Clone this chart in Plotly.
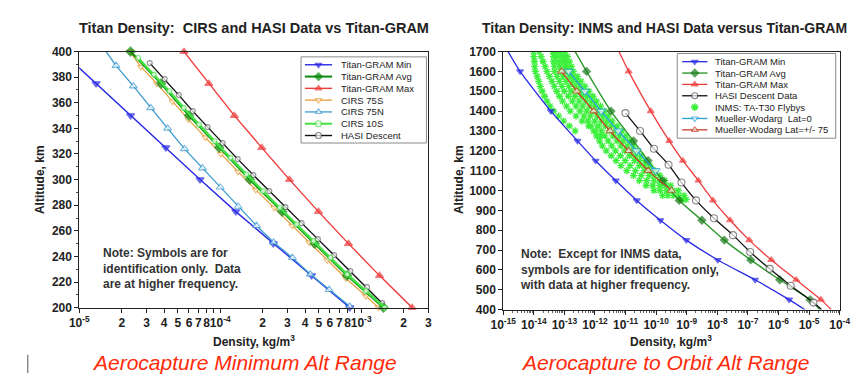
import numpy as np
import plotly.graph_objects as go

W, H = 865, 374

# ---------------- Left chart: CIRS and HASI vs Titan-GRAM ----------------
alt_gram_l = [400, 375, 350, 325, 300, 275, 250, 225, 200]
gram_min_l = [7.48e-6, 1.315e-5, 2.31e-5, 4.11e-5, 7.19e-5, 1.29e-4, 2.38e-4, 4.45e-4, 8.30e-4]
gram_avg_l = [2.31e-5, 3.80e-5, 6.00e-5, 9.82e-5, 1.62e-4, 2.75e-4, 4.68e-4, 7.94e-4, 1.44e-3]
gram_max_l = [5.53e-5, 8.30e-5, 1.26e-4, 1.97e-4, 3.10e-4, 4.98e-4, 8.13e-4, 1.35e-3, 2.30e-3]

alt_cirs75s = [400, 388, 375, 361, 347, 333, 320, 306, 292, 278, 264, 251, 237, 223, 209, 200]
cirs_75s = [2.28e-5, 2.74e-5, 3.55e-5, 4.58e-5, 5.94e-5, 7.83e-5, 1.01e-4, 1.34e-4, 1.79e-4,
            2.41e-4, 3.24e-4, 4.28e-4, 5.75e-4, 7.78e-4, 1.08e-3, 1.33e-3]

alt_cirs75n = [400, 389, 373, 356, 340, 324, 309, 294, 279, 264, 251, 239, 226, 214, 201]
cirs_75n = [1.55e-5, 1.82e-5, 2.42e-5, 3.21e-5, 4.23e-5, 5.58e-5, 7.48e-5, 1.00e-4, 1.34e-4,
            1.81e-4, 2.39e-4, 3.25e-4, 4.36e-4, 5.92e-4, 8.30e-4]

alt_cirs10s = [395, 382, 369, 356, 343, 330, 317, 304, 291, 278, 265, 252, 239, 226, 213, 200]
cirs_10s = [2.61e-5, 3.38e-5, 4.35e-5, 5.50e-5, 7.05e-5, 9.10e-5, 1.18e-4, 1.53e-4, 2.01e-4,
            2.64e-4, 3.48e-4, 4.59e-4, 6.04e-4, 7.96e-4, 1.08e-3, 1.47e-3]

alt_hasi_l = [391, 378.5, 366, 353.5, 341, 328.5, 316, 303.5, 291, 278.5, 266, 253.5, 241, 228.5, 216, 203.5]
hasi_l = [3.16e-5, 4.03e-5, 5.08e-5, 6.38e-5, 8.13e-5, 1.04e-4, 1.33e-4, 1.72e-4, 2.23e-4,
          2.90e-4, 3.78e-4, 4.93e-4, 6.43e-4, 8.38e-4, 1.10e-3, 1.41e-3]

left_tick_vals = [1e-5, 2e-5, 3e-5, 4e-5, 5e-5, 6e-5, 7e-5, 8e-5,
                  1e-4, 2e-4, 3e-4, 4e-4, 5e-4, 6e-4, 7e-4, 8e-4,
                  1e-3, 2e-3, 3e-3]
left_tick_text = ["10<sup>-5</sup>", "2", "3", "4", "5", "6", "7", "8",
                  "10<sup>-4</sup>", "2", "3", "4", "5", "6", "7", "8",
                  "10<sup>-3</sup>", "2", "3"]
left_minor_vals = [9e-5, 9e-4]
left_alt_ticks = [200, 220, 240, 260, 280, 300, 320, 340, 360, 380, 400]

# ---------------- Right chart: INMS and HASI vs Titan-GRAM ----------------
alt_gram_r = [1700, 1600, 1400, 1250, 1150, 1050, 950, 850, 750, 650, 550, 450, 400]
gram_min_r = [1.44e-15, 3.55e-15, 3.61e-14, 2.67e-13, 1.05e-12, 4.77e-12, 2.32e-11, 1.38e-10,
              9.70e-10, 1.04e-8, 1.72e-7, 2.23e-6, 7.19e-6]
gram_avg_r = [2.25e-13, 5.31e-13, 3.31e-12, 1.82e-11, 5.47e-11, 1.64e-10, 5.69e-10, 3.13e-9,
              1.69e-8, 1.24e-7, 1.10e-6, 1.08e-5, 2.27e-5]
gram_max_r = [6.08e-12, 1.26e-11, 6.67e-11, 2.68e-10, 7.46e-10, 2.41e-9, 7.23e-9, 2.62e-8,
              1.11e-7, 5.83e-7, 3.80e-6, 2.44e-5, 5.31e-5]

alt_hasi_r = [1390, 1300, 1210, 1130, 1040, 950, 860, 775, 690, 605, 520, 435, 400]
hasi_r = [9.93e-12, 2.98e-11, 8.47e-11, 2.54e-10, 6.73e-10, 2.02e-9, 7.76e-9, 3.26e-8,
          1.19e-7, 5.15e-7, 2.52e-6, 1.39e-5, 2.55e-5]

alt_mw0 = [1600, 1500, 1400, 1300, 1200, 1100]
mw_lat0 = [1.38e-13, 4.69e-13, 1.59e-12, 5.79e-12, 2.32e-11, 9.62e-11]
alt_mw75 = [1600, 1500, 1400, 1300, 1200, 1100, 1000]
mw_lat75 = [8.09e-14, 2.55e-13, 9.06e-13, 3.08e-12, 1.26e-11, 5.47e-11, 3.17e-10]

# INMS flyby profiles (log10 of density, kg/m^3), shared altitude list (km)
inms_alt = [1700, 1675, 1650, 1625, 1600, 1575, 1550, 1525, 1500, 1475, 1450, 1425, 1400, 1375,
            1350, 1325, 1300, 1275, 1250, 1225, 1200, 1175, 1150, 1125, 1100, 1075, 1050, 1025,
            1000, 975, 955]
inms_a_log10 = [-14.01, -14.00, -13.98, -13.97, -13.95, -13.89, -13.84, -13.79, -13.73, -13.65,
                -13.57, -13.47, -13.35, -13.19, -13.03, -12.84, -12.65]
inms_b_log10 = [-13.82, -13.76, -13.70, -13.63, -13.57, -13.49, -13.41, -13.33, -13.25, -13.16,
                -13.06, -12.93, -12.81, -12.62, -12.42, -12.20, -11.98, -11.82]
inms_c_log10 = [-13.38, -13.36, -13.35, -13.33, -13.32, -13.24, -13.16, -13.08, -13.00, -12.87,
                -12.74, -12.62, -12.49, -12.36, -12.23, -12.14, -12.04, -11.95, -11.85, -11.76,
                -11.63, -11.47, -11.31, -11.15, -10.96, -10.74, -10.55, -10.33, -10.07, -9.79]
inms_f_log10 = [-13.28, -13.25, -13.20, -13.16, -13.12, -13.05, -12.95, -12.86, -12.78, -12.65,
                -12.52, -12.40, -12.27, -12.15, -12.01, -11.90, -11.79, -11.68, -11.57, -11.45,
                -11.33, -11.17, -11.01, -10.85, -10.68, -10.49, -10.31, -10.11, -9.87, -9.62]
inms_d_log10 = [-13.19, -13.12, -13.06, -13.00, -12.93, -12.84, -12.74, -12.65, -12.55, -12.42,
                -12.30, -12.17, -12.04, -11.92, -11.79, -11.66, -11.53, -11.41, -11.28, -11.15,
                -11.03, -10.87, -10.71, -10.55, -10.39, -10.23, -10.07, -9.88, -9.66, -9.44, -9.21]
inms_g_log10 = [-13.08, -13.01, -12.95, -12.89, -12.82, -12.71, -12.60, -12.49, -12.38, -12.25,
                -12.12, -12.00, -11.87, -11.74, -11.61, -11.47, -11.33, -11.20, -11.08, -10.95,
                -10.82, -10.68, -10.54, -10.38, -10.22, -10.06, -9.90, -9.71, -9.47, -9.27, -9.12]
inms_e_log10 = [-12.97, -12.90, -12.84, -12.77, -12.71, -12.58, -12.46, -12.33, -12.20, -12.07,
                -11.95, -11.82, -11.69, -11.57, -11.44, -11.28, -11.12, -10.99, -10.87, -10.74,
                -10.61, -10.49, -10.36, -10.20, -10.04, -9.88, -9.72, -9.53, -9.28, -9.09, -9.02]

right_tick_vals = [1e-15, 1e-14, 1e-13, 1e-12, 1e-11, 1e-10, 1e-9, 1e-8, 1e-7, 1e-6, 1e-5, 1e-4]
right_tick_text = ["10<sup>-15</sup>", "10<sup>-14</sup>", "10<sup>-13</sup>", "10<sup>-12</sup>",
                   "10<sup>-11</sup>", "10<sup>-10</sup>", "10<sup>-9</sup>", "10<sup>-8</sup>",
                   "10<sup>-7</sup>", "10<sup>-6</sup>", "10<sup>-5</sup>", "10<sup>-4</sup>"]
right_alt_ticks = [400, 500, 600, 700, 800, 900, 1000, 1100, 1200, 1300, 1400, 1500, 1600, 1700]

# ---------------- styles ----------------
FONT = "Arial, 'Liberation Sans', sans-serif"
C_MIN = "#2a2ae6"
C_AVG_L = "#0a8a0a"
C_AVG_R = "#2e9a2e"
C_MAX = "#ef3b3b"
C_75S = "#e8a040"
C_75N = "#3a9ad0"
C_10S = "#44e044"
C_HASI = "#111111"
C_INMS = "#3cf03c"
C_MW0 = "#2aa0d8"
C_MW75 = "#c8402a"

L_XR = [-5, float(np.log10(3e-3))]
L_YR = [200, 400]
R_XR = [-15, -4]
R_YR = [400, 1700]

fig = go.Figure()


def add_curve(x, y, xa, ya, color, symbol, msize, lw, fill, mline, hide, spline=False):
    sizes = [0 if hide(i, xv, yv) else msize for i, (xv, yv) in enumerate(zip(x, y))]
    fig.add_trace(go.Scatter(
        x=x, y=y, xaxis=xa, yaxis=ya, mode="lines+markers", showlegend=False,
        cliponaxis=(xa == "x2"),
        line=dict(color=color, width=lw, shape="spline" if spline else "linear", smoothing=0.6),
        marker=dict(symbol=symbol, size=sizes, color=fill, line=dict(color=mline, width=1.1)),
        hoverinfo="skip"))


def hide_left(i, xv, yv):
    return np.log10(xv) < L_XR[0] - 1e-6


def hide_left_entry(i, xv, yv):
    return i == 0 or hide_left(i, xv, yv)


def hide_right(i, xv, yv):
    return yv >= R_YR[1] or yv <= R_YR[0]


# Left chart traces
add_curve(gram_min_l, alt_gram_l, "x", "y", C_MIN, "triangle-down", 7, 1.4, C_MIN, C_MIN, hide_left)
add_curve(gram_max_l, alt_gram_l, "x", "y", C_MAX, "triangle-up", 7, 1.4, C_MAX, C_MAX, hide_left)
add_curve(cirs_75n, alt_cirs75n, "x", "y", C_75N, "triangle-up", 7, 1.3, "white", C_75N, hide_left_entry)
add_curve(hasi_l, alt_hasi_l, "x", "y", C_HASI, "circle", 5, 1.4, "white", "#666666", hide_left)
add_curve(cirs_75s, alt_cirs75s, "x", "y", C_75S, "triangle-down", 6, 1.3, "white", C_75S, hide_left)
add_curve(gram_avg_l, alt_gram_l, "x", "y", C_AVG_L, "diamond", 7, 2.0, C_AVG_L, C_AVG_L, hide_left)
add_curve(cirs_10s, alt_cirs10s, "x", "y", C_10S, "circle", 5, 2.4, "white", C_10S, hide_left)

# Right chart traces: INMS cloud first
for prof in [inms_a_log10, inms_b_log10, inms_c_log10, inms_f_log10, inms_d_log10,
             inms_g_log10, inms_e_log10]:
    dens = [10 ** v for v in prof]
    fig.add_trace(go.Scatter(
        x=dens, y=inms_alt[:len(dens)], xaxis="x2", yaxis="y2", mode="markers", showlegend=False,
        marker=dict(symbol="asterisk-open", size=6, color=C_INMS, line=dict(color=C_INMS, width=1.3)),
        hoverinfo="skip"))

add_curve(gram_min_r, alt_gram_r, "x2", "y2", C_MIN, "triangle-down", 6, 1.3, C_MIN, C_MIN, hide_right, True)
add_curve(gram_avg_r, alt_gram_r, "x2", "y2", C_AVG_R, "diamond", 6, 1.4, "#1a7a1a", "#1a7a1a", hide_right, True)
add_curve(gram_max_r, alt_gram_r, "x2", "y2", C_MAX, "triangle-up", 6, 1.3, C_MAX, C_MAX, hide_right, True)
add_curve(hasi_r, alt_hasi_r, "x2", "y2", C_HASI, "circle", 7, 1.3, "white", "#555555", hide_right, True)
add_curve(mw_lat0, alt_mw0, "x2", "y2", C_MW0, "triangle-down", 8, 1.3, "white", C_MW0, hide_right, True)
add_curve(mw_lat75, alt_mw75, "x2", "y2", C_MW75, "triangle-up", 7, 1.3, "white", C_MW75, hide_right, True)

# ---------------- manual legends on a full-figure pixel axis (x3/y3) ----------------
legend_left = [
    ("Titan-GRAM Min", C_MIN, "triangle-down", C_MIN, C_MIN, 1.4, "lm"),
    ("Titan-GRAM Avg", C_AVG_L, "diamond", C_AVG_L, C_AVG_L, 2.0, "lm"),
    ("Titan-GRAM Max", C_MAX, "triangle-up", C_MAX, C_MAX, 1.4, "lm"),
    ("CIRS 75S", C_75S, "triangle-down", "white", C_75S, 1.3, "lm"),
    ("CIRS 75N", C_75N, "triangle-up", "white", C_75N, 1.3, "lm"),
    ("CIRS 10S", C_10S, "circle", "white", C_10S, 2.0, "lm"),
    ("HASI Descent", C_HASI, "circle", "white", "#555555", 1.4, "lm"),
]
legend_right = [
    ("Titan-GRAM Min", C_MIN, "triangle-down", C_MIN, C_MIN, 1.3, "lm"),
    ("Titan-GRAM Avg", C_AVG_R, "diamond", "#1a7a1a", "#1a7a1a", 1.4, "lm"),
    ("Titan-GRAM Max", C_MAX, "triangle-up", C_MAX, C_MAX, 1.3, "lm"),
    ("HASI Descent Data", C_HASI, "circle", "white", "#555555", 1.3, "lm"),
    ("INMS: TA-T30 Flybys", C_INMS, "asterisk-open", C_INMS, C_INMS, 1.6, "m"),
    ("Mueller-Wodarg  Lat=0", C_MW0, "triangle-down", "white", C_MW0, 1.3, "lm"),
    ("Mueller-Wodarg Lat=+/- 75", C_MW75, "triangle-up", "white", C_MW75, 1.3, "lm"),
]

shapes = []
annotations = []


def draw_legend(entries, box, x0, x1, xt, y0, dy, fsize):
    shapes.append(dict(type="rect", xref="x3", yref="y3", x0=box[0], x1=box[1], y0=box[2], y1=box[3],
                       line=dict(color="#8a8a8a", width=1), fillcolor="white", layer="below"))
    for k, (name, col, sym, fill, mline, lw, mode) in enumerate(entries):
        yy = y0 + k * dy
        xm = (x0 + x1) / 2
        if mode == "lm":
            fig.add_trace(go.Scatter(x=[x0, xm, x1], y=[yy, yy, yy], xaxis="x3", yaxis="y3",
                                     mode="lines+markers", showlegend=False, hoverinfo="skip",
                                     line=dict(color=col, width=lw),
                                     marker=dict(symbol=sym, size=[0, 6, 0], color=fill,
                                                 line=dict(color=mline, width=1.1))))
        else:
            fig.add_trace(go.Scatter(x=[xm], y=[yy], xaxis="x3", yaxis="y3", mode="markers",
                                     showlegend=False, hoverinfo="skip",
                                     marker=dict(symbol=sym, size=6, color=fill,
                                                 line=dict(color=mline, width=1.6))))
        annotations.append(dict(x=xt, y=yy, xref="x3", yref="y3", text=name, showarrow=False,
                                xanchor="left", yanchor="middle",
                                font=dict(family=FONT, size=fsize, color="#222222")))


draw_legend(legend_left, (288, 417, 43.5, 133), 292, 320, 327, 51.7, 12.25, 9.5)
draw_legend(legend_right, (675, 838, 40, 128), 680, 706, 712, 48.5, 11.8, 9.5)

# ---------------- text ----------------
def txt(x, y, s, size, color="#222222", bold=True, italic=False, xanchor="center", angle=0):
    annotations.append(dict(
        x=x, y=y, xref="x3", yref="y3", text=s, showarrow=False, xanchor=xanchor, yanchor="middle",
        textangle=angle, align="left",
        font=dict(family=FONT, size=size, color=color, weight="bold" if bold else "normal",
                  style="italic" if italic else "normal")))


txt(240, 14, "Titan Density:&nbsp; CIRS and HASI Data vs Titan-GRAM", 14.5)
txt(662, 14, "Titan Density: INMS and HASI Data versus Titan-GRAM", 14)
txt(19, 171, "Altitude, km", 12, angle=-90)
txt(450, 171, "Altitude, km", 12, angle=-90)
txt(240, 339, "Density, kg/m<sup>3</sup>", 12)
txt(669, 339, "Density, kg/m<sup>3</sup>", 12)
txt(82, 263, "Note: Symbols are for<br>identification only.&nbsp; Data<br>are at higher frequency.",
    12, color="#333333", xanchor="left")
txt(511, 264, "Note:&nbsp; Except for INMS data,<br>symbols are for identification only,<br>with data at higher frequency.",
    12, color="#333333", xanchor="left")
txt(230, 361, "Aerocapture Minimum Alt Range", 21, color="#ff2a0a", bold=False, italic=True)
txt(662, 361, "Aerocapture to Orbit Alt Range", 21, color="#ff2a0a", bold=False, italic=True)

shapes.append(dict(type="line", xref="x3", yref="y3", x0=7, x1=7, y0=353, y1=372,
                   line=dict(color="#555555", width=1)))

# ---------------- axes ----------------
axis_common = dict(showline=True, linecolor="#222222", linewidth=1, mirror=True, ticks="outside",
                   ticklen=4, tickcolor="#222222", showgrid=False, zeroline=False, tickangle=0,
                   tickfont=dict(family=FONT, size=12, color="#222222", weight="bold"))

right_minor = [m * 10.0 ** d for d in range(-15, -4) for m in range(2, 10)]

fig.update_layout(
    width=W, height=H, margin=dict(l=0, r=0, t=0, b=0),
    paper_bgcolor="white", plot_bgcolor="rgba(0,0,0,0)",
    font=dict(family=FONT),
    xaxis=dict(type="log", domain=[60 / W, 419 / W], range=L_XR, anchor="y",
               tickmode="array", tickvals=left_tick_vals, ticktext=left_tick_text,
               minor=dict(tickmode="array", tickvals=left_minor_vals, ticks="outside", ticklen=4,
                          tickcolor="#222222"), **axis_common),
    yaxis=dict(domain=[1 - 304 / H, 1 - 38 / H], range=L_YR, anchor="x",
               tickmode="array", tickvals=left_alt_ticks,
               minor=dict(dtick=10, ticks="outside", ticklen=2, tickcolor="#444444"), **axis_common),
    xaxis2=dict(type="log", domain=[496 / W, 842 / W], range=R_XR, anchor="y2",
                tickmode="array", tickvals=right_tick_vals, ticktext=right_tick_text,
                minor=dict(tickmode="array", tickvals=right_minor, ticks="outside", ticklen=2,
                           tickcolor="#666666"), **axis_common),
    yaxis2=dict(domain=[1 - 306 / H, 1 - 38 / H], range=R_YR, anchor="x2",
                tickmode="array", tickvals=right_alt_ticks, **axis_common),
    xaxis3=dict(domain=[0, 1], range=[0, W], anchor="y3", visible=False, fixedrange=True),
    yaxis3=dict(domain=[0, 1], range=[H, 0], anchor="x3", visible=False, fixedrange=True),
    shapes=shapes, annotations=annotations, showlegend=False,
)

fig.write_html("out.html")
